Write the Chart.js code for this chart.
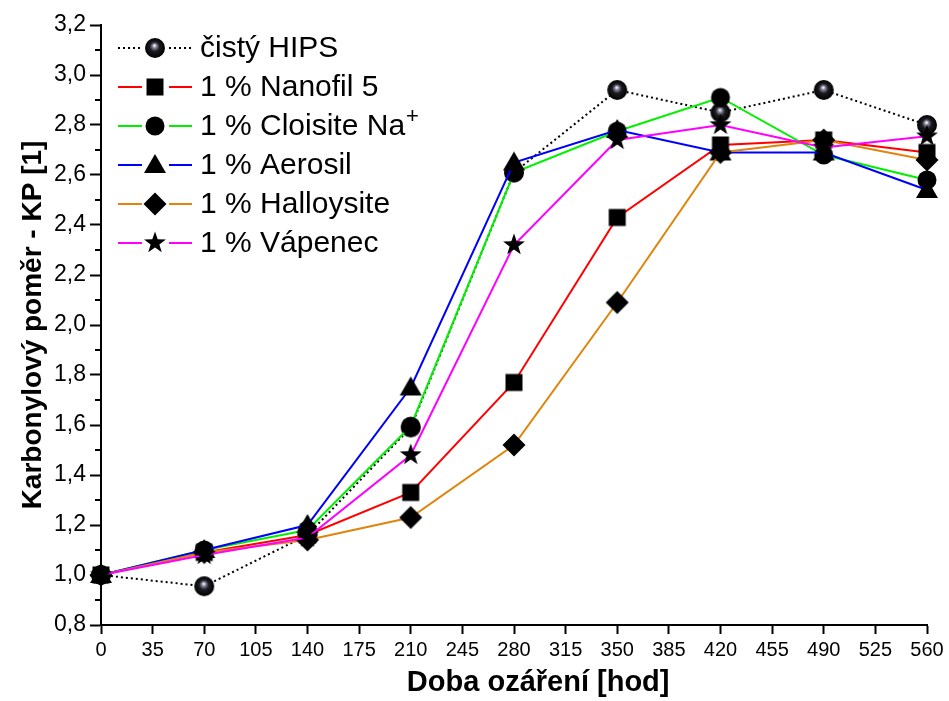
<!DOCTYPE html>
<html>
<head>
<meta charset="utf-8">
<script src="https://cdn.jsdelivr.net/npm/chart.js@4.4.1/dist/chart.umd.min.js"></script>
<style>
    html, body { margin: 0; padding: 0; background: #fff; }
</style>
</head>
<body>
<canvas id="kp-chart" width="949" height="701"></canvas>
<script>
// irradiation time [h]
const hours = [0, 70, 140, 210, 280, 350, 420, 490, 560];

// carbonyl ratio per sample
const hips       = [1.00, 0.955, 1.16, 1.59, 2.61, 2.94, 2.85, 2.94, 2.80];
const nanofil    = [1.00, 1.09, 1.16, 1.33, 1.77, 2.43, 2.72, 2.74, 2.69];
const cloisite   = [1.00, 1.10, 1.18, 1.595, 2.61, 2.775, 2.91, 2.68, 2.58];
const aerosil    = [1.00, 1.10, 1.20, 1.75, 2.65, 2.78, 2.69, 2.69, 2.54];
const halloysite = [1.00, 1.09, 1.14, 1.23, 1.52, 2.09, 2.69, 2.74, 2.66];
const vapenec    = [1.00, 1.08, 1.15, 1.48, 2.32, 2.74, 2.80, 2.71, 2.755];

const seriesNames = ['čistý HIPS', '1 % Nanofil 5', '1 % Cloisite Na+', '1 % Aerosil', '1 % Halloysite', '1 % Vápenec'];
const seriesValues = [hips, nanofil, cloisite, aerosil, halloysite, vapenec];
const seriesColors = ['#000000', '#ff0000', '#00f000', '#0000ff', '#e0840c', '#ff00ff'];
const markerShapes = ['sphere', 'square', 'circle', 'triangle', 'diamond', 'star'];

const xTicks = [0, 35, 70, 105, 140, 175, 210, 245, 280, 315, 350, 385, 420, 455, 490, 525, 560];

const plainFont = "'Liberation Sans', Arial, sans-serif";

// black symbols drawn once into small canvases
function makeMarker(shape) {
    const c = document.createElement('canvas');
    c.width = 26;
    c.height = 26;
    const g = c.getContext('2d');
    const m = 13;
    g.fillStyle = '#000';
    g.beginPath();
    if (shape === 'circle') {
        g.arc(m, m, 9.5, 0, Math.PI * 2);
    } else if (shape === 'square') {
        g.rect(m - 8.5, m - 8.5, 17, 17);
    } else if (shape === 'triangle') {
        g.moveTo(m, m - 11);
        g.lineTo(m + 11, m + 8);
        g.lineTo(m - 11, m + 8);
        g.closePath();
    } else if (shape === 'diamond') {
        g.moveTo(m, m - 11.5);
        g.lineTo(m + 11.5, m);
        g.lineTo(m, m + 11.5);
        g.lineTo(m - 11.5, m);
        g.closePath();
    } else if (shape === 'star') {
        for (let k = 0; k < 10; k++) {
            const r = k % 2 ? 4.6 : 11.5;
            const a = -Math.PI / 2 + k * Math.PI / 5;
            g.lineTo(m + r * Math.cos(a), m + r * Math.sin(a));
        }
        g.closePath();
    } else {
        // shaded ball
        const grad = g.createRadialGradient(m - 0.5, m - 2.5, 0.5, m, m, 10);
        grad.addColorStop(0, '#f4f4ff');
        grad.addColorStop(0.15, '#8e8ea4');
        grad.addColorStop(0.45, '#1c1c22');
        grad.addColorStop(1, '#000');
        g.fillStyle = grad;
        g.arc(m, m, 10, 0, Math.PI * 2);
    }
    g.fill();
    return c;
}

const markers = markerShapes.map(makeMarker);

const datasets = seriesNames.map((name, i) => ({
    label: name,
    data: hours.map((h, k) => ({x: h, y: seriesValues[i][k]})),
    borderColor: seriesColors[i],
    backgroundColor: seriesColors[i],
    borderWidth: 2,
    borderDash: i === 0 ? [2, 3] : [],
    pointStyle: markers[i],
    pointRadius: 10,
    tension: 0,
    clip: false,
    order: 6 - i
}));

// short minor ticks between labelled values on the y axis
const minorTicks = {
    id: 'minorTicks',
    afterDraw(chart) {
        const y = chart.scales.y;
        const ctx = chart.ctx;
        const x0 = y.right;
        ctx.save();
        ctx.strokeStyle = '#000';
        ctx.lineWidth = 2;
        for (let v = 0.9; v < 3.2; v += 0.2) {
            const py = Math.round(y.getPixelForValue(v));
            ctx.beginPath();
            ctx.moveTo(x0 - 6, py);
            ctx.lineTo(x0, py);
            ctx.stroke();
        }
        ctx.restore();
    }
};

// legend with line - symbol - line entries inside the plot
const lineLegend = {
    id: 'lineLegend',
    afterDraw(chart) {
        const ctx = chart.ctx;
        ctx.save();
        chart.data.datasets.forEach((ds, i) => {
            const cy = 48 + i * 39;
            ctx.strokeStyle = ds.borderColor;
            ctx.lineWidth = 2;
            ctx.setLineDash(ds.borderDash);
            ctx.beginPath();
            ctx.moveTo(118, cy);
            ctx.lineTo(142, cy);
            ctx.moveTo(169, cy);
            ctx.lineTo(192, cy);
            ctx.stroke();
            ctx.setLineDash([]);
            Chart.helpers.drawPoint(ctx, {pointStyle: ds.pointStyle, radius: 10, rotation: 0}, 155, cy);

            ctx.fillStyle = '#000';
            ctx.textBaseline = 'middle';
            ctx.textAlign = 'left';
            ctx.font = '30px ' + plainFont;
            let text = ds.label;
            let sup = '';
            if (text.endsWith('+')) {
                text = text.slice(0, -1);
                sup = '+';
            }
            ctx.fillText(text, 200, cy + 1);
            if (sup) {
                const w = ctx.measureText(text).width;
                ctx.font = '22px ' + plainFont;
                ctx.fillText(sup, 200 + w + 1, cy - 9);
            }
        });
        ctx.restore();
    }
};

new Chart(document.getElementById('kp-chart').getContext('2d'), {
    type: 'line',
    data: {datasets: datasets},
    options: {
        responsive: false,
        animation: false,
        devicePixelRatio: 1,
        layout: {padding: {top: 25, right: 22, left: 0, bottom: 0}},
        plugins: {
            legend: {display: false},
            tooltip: {enabled: false}
        },
        scales: {
            x: {
                type: 'linear',
                min: 0,
                max: 560,
                afterBuildTicks: (scale) => {
                    scale.ticks = xTicks.map(v => ({value: v}));
                },
                afterFit: (scale) => {
                    scale.height = 76;
                    scale.paddingLeft = 0;
                    scale.paddingRight = 0;
                },
                border: {display: true, color: '#000', width: 2},
                grid: {drawOnChartArea: false, drawTicks: true, tickLength: 9, tickColor: '#000', tickWidth: 2},
                ticks: {
                    autoSkip: false,
                    maxRotation: 0,
                    padding: 4,
                    color: '#000',
                    font: {family: plainFont, size: 20}
                },
                title: {
                    display: true,
                    text: '      Doba ozáření [hod]',
                    color: '#000',
                    font: {family: plainFont, size: 29, weight: 'bold'},
                    padding: {top: 0, bottom: 1}
                }
            },
            y: {
                type: 'linear',
                min: 0.8,
                max: 3.2,
                ticks: {
                    stepSize: 0.2,
                    autoSkip: false,
                    padding: 4,
                    color: '#000',
                    font: {family: plainFont, size: 23},
                    callback: (v) => v.toFixed(1).replace('.', ',')
                },
                afterFit: (scale) => {
                    scale.width = 101;
                    scale.paddingTop = 0;
                    scale.paddingBottom = 0;
                },
                border: {display: true, color: '#000', width: 2},
                grid: {drawOnChartArea: false, drawTicks: true, tickLength: 11, tickColor: '#000', tickWidth: 2},
                title: {
                    display: true,
                    text: 'Karbonylový poměr - KP [1]',
                    color: '#000',
                    font: {family: plainFont, size: 28, weight: 'bold'},
                    padding: {top: 16, bottom: 0}
                }
            }
        }
    },
    plugins: [minorTicks, lineLegend]
});
</script>
</body>
</html>
